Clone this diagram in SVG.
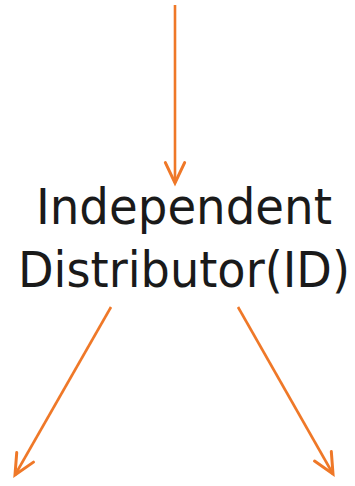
<svg xmlns="http://www.w3.org/2000/svg" width="355" height="486" viewBox="0 0 355 486">
<defs>
<marker id="ah" markerUnits="userSpaceOnUse" markerWidth="30" markerHeight="30" viewBox="-24 -12 28 24" refX="0" refY="0" orient="auto">
<path d="M-19,-9 L0,0 L-19,9" fill="none" stroke="#EF7828" stroke-width="2.8" stroke-linecap="round" stroke-linejoin="miter"/>
</marker>
<style>
.edge{fill:none;stroke:#EF7828;stroke-width:2.6;marker-end:url(#ah)}
.lbl{font-family:"DejaVu Sans",Verdana,sans-serif;font-size:49px;fill:#1a1a1a;text-anchor:middle}
</style>
</defs>
<rect width="355" height="486" fill="#ffffff"/>
<g id="connectors">
<line class="edge" x1="175" y1="5" x2="175" y2="183"/>
<line class="edge" x1="111" y1="307" x2="15" y2="475"/>
<line class="edge" x1="238" y1="307" x2="333" y2="474"/>
</g>
<g id="node-id">
<text class="lbl" x="184" y="224" textLength="296" lengthAdjust="spacingAndGlyphs">Independent</text>
<text class="lbl" x="184" y="287" textLength="332" lengthAdjust="spacingAndGlyphs">Distributor(ID)</text>
</g>
</svg>
